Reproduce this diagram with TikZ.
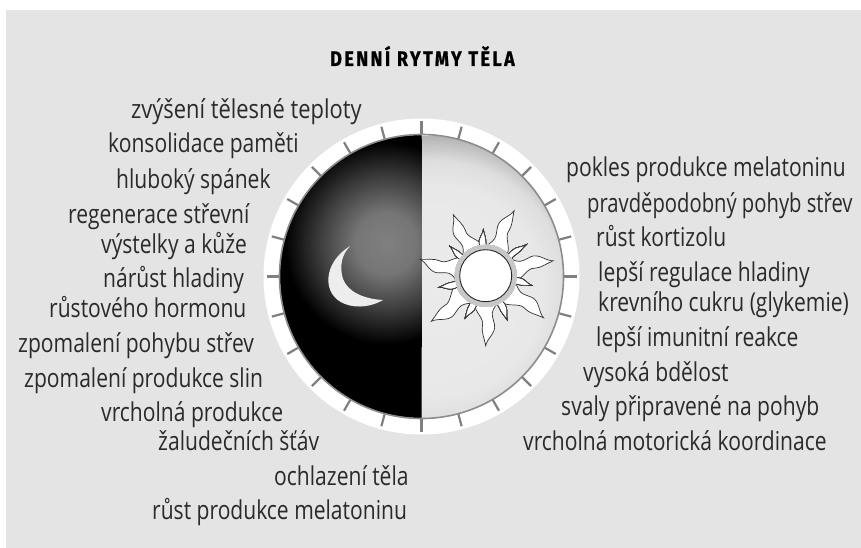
\documentclass[tikz,border=0pt]{standalone}
\usepackage{fontspec}
\setmainfont[FakeStretch=0.81]{Open Sans}
\newfontfamily\titlefont[FakeStretch=0.85,LetterSpace=12,BoldFeatures={FakeBold=1}]{Fira Sans}
\usetikzlibrary{calc}
\definecolor{panel}{HTML}{E4E4E4}
\definecolor{ink}{HTML}{2A2A2A}
\pgfdeclareradialshading{nightglow}{\pgfpoint{0bp}{0bp}}{color(0bp)=(black!50); color(7bp)=(black!54); color(15bp)=(black!76); color(23bp)=(black); color(50bp)=(black)}
\pgfdeclareradialshading{dayglow}{\pgfpoint{0bp}{0bp}}{color(0bp)=(black!8); color(17bp)=(black!9); color(21bp)=(black!13); color(25bp)=(black!30); color(50bp)=(black!30)}
\tikzset{
  lbl/.style={font=\fontsize{26}{26}\selectfont, text=ink, inner sep=0pt, anchor=base west},
  tick/.style={draw=black!50, line width=2.2pt},
}
\newcommand{\sunray}[3]{% angle, tip radius, half width
  \draw[rotate=#1, fill=white, draw=black!80, line width=.7pt]
    (28,#3) .. controls (.52*#2,1.05*#3) and (.6*#2,.1*#3) .. (.72*#2,.3*#3)
    .. controls (.8*#2,.4*#3) and (.9*#2,.12*#3) .. (#2,0)
    .. controls (.9*#2,-.1*#3) and (.82*#2,-.95*#3) .. (.7*#2,-.8*#3)
    .. controls (.62*#2,-.7*#3) and (.55*#2,-.45*#3) .. (.48*#2,-.7*#3)
    .. controls (.44*#2,-.85*#3) .. (28,-#3) -- cycle;}
\begin{document}
\begin{tikzpicture}[x=1pt,y=-1pt]
  \useasboundingbox (0,0) rectangle (861,548);
  \fill[white] (0,0) rectangle (861,548);
  \fill[panel] (6,10) rectangle (861,548);
  \coordinate (c) at (421.5,276.5);
  % dial
  \fill[white] (c) circle (158);
  \foreach \a in {0,15,...,345}
    \draw[tick] ($(c)+(\a:141)$) -- ($(c)+(\a:155)$);
  \begin{scope}
    \clip (c) circle (141.5);
    \begin{scope}
      \clip ($(c)+(0,-145)$) rectangle ($(c)+(145,145)$);
      \shade[shading=dayglow] ($(c)+(14,14)$) circle (155);
    \end{scope}
    \begin{scope}
      \clip ($(c)+(-145,-145)$) rectangle ($(c)+(0,145)$);
      \fill[black] ($(c)+(-145,-145)$) rectangle ($(c)+(0,145)$);
      \shade[shading=nightglow] (386,243) circle (110);
    \end{scope}
  \end{scope}
  \draw[black!45, line width=1.6pt] (c) circle (142);
  % moon
  \fill[white!93!black] (350.3,246) .. controls (323,262) and (321,295) .. (345,304)
     .. controls (358,309) and (373,306) .. (383,300)
     .. controls (364,299) and (348,292) .. (343,279)
     .. controls (339,266) and (342,254) .. (350.3,246) -- cycle;
  % sun
  \begin{scope}[shift={(485.7,275.7)}]
    \foreach \a/\l/\w in {-90/70/11,-140/71/12,-36/71.5/12,12.5/69/11,66.4/71/11,118/69/11,166/67.6/11}
      \sunray{\a}{\l}{\w}
    \foreach \a/\l/\w in {-116/47/6,-64/49/6,-12/47/6,37.5/51/5,93/46/6,140.6/46/5,-166/48/6}
      \sunray{\a}{\l}{\w}
    \fill[white!78!black] (0,0) circle (31);
    \fill[white] (0,0) circle (26);
    \draw[black!85, line width=.9pt] (0,0) circle (26);
  \end{scope}
  % title
  \node[font=\titlefont\bfseries\fontsize{21}{21}\selectfont, text=black, inner sep=0pt, anchor=base] (title) at (422.5,66) {DENNÍ RYTMY TĚLA};
  % left labels
  \node[lbl] (l1) at (131,119) {\scalebox{1.04}[1]{zvýšení tělesné teploty}};
  \node[lbl] (l2) at (108,153) {konsolidace paměti};
  \node[lbl] (l3) at (116,188) {hluboký spánek};
  \node[lbl] (l4) at (68,223) {regenerace střevní};
  \node[lbl] (l5) at (101,253) {výstelky a kůže};
  \node[lbl] (l6) at (103,287) {nárůst hladiny};
  \node[lbl] (l7) at (49,317) {růstového hormonu};
  \node[lbl] (l8) at (18,352) {zpomalení pohybu střev};
  \node[lbl] (l9) at (24,387) {zpomalení produkce slin};
  \node[lbl] (l10) at (101,421) {vrcholná produkce};
  \node[lbl] (l11) at (158,450) {žaludečních šťáv};
  \node[lbl] (l12) at (274,485) {ochlazení těla};
  \node[lbl] (l13) at (152,519) {růst produkce melatoninu};
  % right labels
  \node[lbl] (r1) at (566,177) {pokles produkce melatoninu};
  \node[lbl] (r2) at (587,212) {\scalebox{.96}[1]{pravděpodobný pohyb střev}};
  \node[lbl] (r3) at (596,246) {růst kortizolu};
  \node[lbl] (r4) at (598,281) {lepší regulace hladiny};
  \node[lbl] (r5) at (598,311) {krevního cukru (glykemie)};
  \node[lbl] (r6) at (596,346) {lepší imunitní reakce};
  \node[lbl] (r7) at (583,381) {vysoká bdělost};
  \node[lbl] (r8) at (561,415) {svaly připravené na pohyb};
  \node[lbl] (r9) at (523,450) {vrcholná motorická koordinace};
\end{tikzpicture}
\end{document}
